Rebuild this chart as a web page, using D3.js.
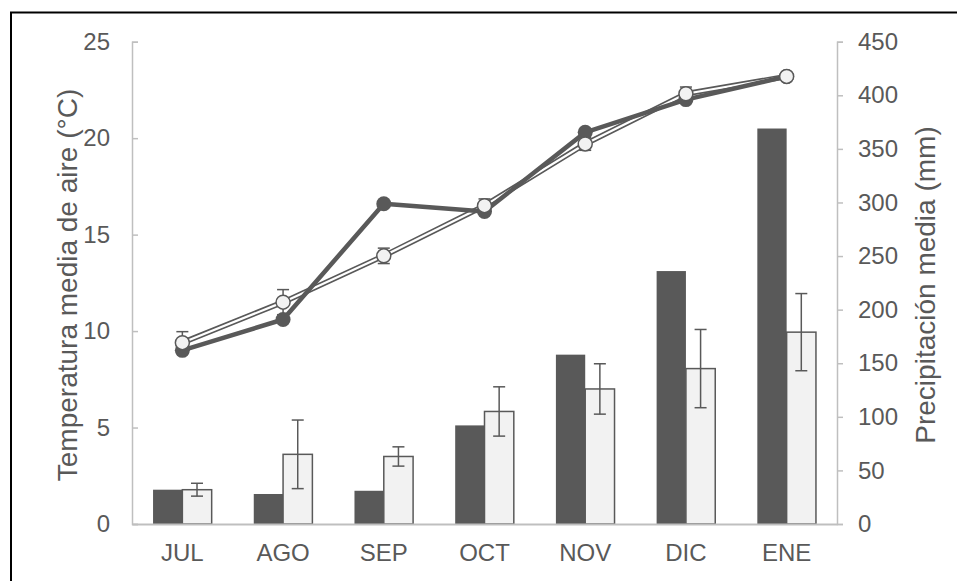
<!DOCTYPE html>
<html>
<head>
<meta charset="utf-8">
<script src="https://cdn.jsdelivr.net/npm/d3@7"></script>
<style>
  html, body { margin: 0; padding: 0; background: #fff; }
  svg { display: block; }
  text { font-family: "Liberation Sans", Arial, sans-serif; fill: #595959; }
</style>
</head>
<body>
<svg id="chart" width="957" height="581"></svg>
<script>
// Months (July to January)
const months = ["JUL", "AGO", "SEP", "OCT", "NOV", "DIC", "ENE"];

// Mean precipitation (mm), right axis
const precipA = [32, 28, 31, 92, 158, 236, 369];
const precipB = [32, 65, 63, 105, 126, 145, 179];
const precipBErr = [6, 32, 9, 23, 23.5, 36.5, 36];

// Mean air temperature (°C), left axis
const tempA = [9.0, 10.6, 16.6, 16.2, 20.3, 22.0, 23.2];
const tempB = [9.4, 11.5, 13.9, 16.5, 19.7, 22.3, 23.2];
const tempBErr = [0.57, 0.65, 0.4, 0.35, 0.33, 0.35, 0.15];

// Axis ticks
const tempTicks = [0, 5, 10, 15, 20, 25];
const precipTicks = [0, 50, 100, 150, 200, 250, 300, 350, 400, 450];

(function () {
  const svg = d3.select("#chart");
  const dark = "#595959";
  const light = "#f2f2f2";
  const axisGrey = "#bfbfbf";

  const plotL = 132, plotR = 837, plotT = 41.7, plotB = 524;

  const x = d3.scaleBand().domain(months).range([plotL, plotR]).padding(0);
  const xSub = d3.scaleBand().domain(["a", "b"]).range([0, x.bandwidth()])
    .paddingInner(0).paddingOuter(0.718);
  const yT = d3.scaleLinear().domain([0, 25]).range([plotB, plotT]);
  const yP = d3.scaleLinear().domain([0, 450]).range([plotB, plotT]);

  // Outer frame
  svg.append("rect")
    .attr("x", 11).attr("y", 12.5)
    .attr("width", 980).attr("height", 600)
    .attr("fill", "none").attr("stroke", "#000").attr("stroke-width", 2);

  // Left axis (temperature), ticks pointing inward
  const gL = svg.append("g").attr("transform", `translate(${plotL},0)`)
    .call(d3.axisLeft(yT).tickValues(tempTicks).tickSize(-6).tickPadding(28));
  // Right axis (precipitation), ticks pointing outward
  const gR = svg.append("g").attr("transform", `translate(${plotR},0)`)
    .call(d3.axisRight(yP).tickValues(precipTicks).tickSize(6).tickPadding(16));
  [gL, gR].forEach(g => {
    g.select(".domain").attr("stroke", axisGrey).attr("stroke-width", 1.5);
    g.selectAll(".tick line").attr("stroke", axisGrey).attr("stroke-width", 1.5);
    g.selectAll(".tick text").attr("font-size", 24).attr("fill", dark)
      .attr("font-family", "Liberation Sans, Arial, sans-serif");
  });
  gL.selectAll(".tick text").attr("text-anchor", "end").attr("x", -22);
  gR.selectAll(".tick text").attr("x", 21);

  // Bars
  const groups = svg.append("g").selectAll("g").data(months).join("g")
    .attr("transform", d => `translate(${x(d)},0)`);
  groups.append("rect")
    .attr("x", xSub("a")).attr("width", xSub.bandwidth())
    .attr("y", (d, i) => yP(precipA[i]))
    .attr("height", (d, i) => plotB - yP(precipA[i]))
    .attr("fill", dark);
  groups.append("rect")
    .attr("x", xSub("b")).attr("width", xSub.bandwidth())
    .attr("y", (d, i) => yP(precipB[i]))
    .attr("height", (d, i) => plotB - yP(precipB[i]))
    .attr("fill", light).attr("stroke", dark).attr("stroke-width", 1.5);

  // Error bars on precipitation
  const capW = 6;
  groups.each(function (d, i) {
    const g = d3.select(this);
    const cx = xSub("b") + xSub.bandwidth() / 2;
    const y1 = yP(precipB[i] + precipBErr[i]);
    const y2 = yP(precipB[i] - precipBErr[i]);
    const e = g.append("g").attr("stroke", dark).attr("stroke-width", 1.5);
    e.append("line").attr("x1", cx).attr("x2", cx).attr("y1", y1).attr("y2", y2);
    e.append("line").attr("x1", cx - capW).attr("x2", cx + capW).attr("y1", y1).attr("y2", y1);
    e.append("line").attr("x1", cx - capW).attr("x2", cx + capW).attr("y1", y2).attr("y2", y2);
  });

  // Bottom axis
  const gB = svg.append("g").attr("transform", `translate(0,${plotB})`)
    .call(d3.axisBottom(x).tickSize(0).tickPadding(20));
  gB.select(".domain").attr("stroke", axisGrey).attr("stroke-width", 2);
  gB.selectAll(".tick text").attr("font-size", 24).attr("fill", dark)
    .attr("font-family", "Liberation Sans, Arial, sans-serif");

  // Temperature lines
  const cxm = d => x(d) + x.bandwidth() / 2;
  const line = d3.line().x((d, i) => cxm(months[i])).y(d => yT(d));

  // Light series error bars
  const eb = svg.append("g").attr("stroke", dark).attr("stroke-width", 1.5);
  tempB.forEach((v, i) => {
    const cx = cxm(months[i]);
    const y1 = yT(v + tempBErr[i]), y2 = yT(v - tempBErr[i]);
    eb.append("line").attr("x1", cx).attr("x2", cx).attr("y1", y1).attr("y2", y2);
    eb.append("line").attr("x1", cx - 6).attr("x2", cx + 6).attr("y1", y1).attr("y2", y1);
    eb.append("line").attr("x1", cx - 6).attr("x2", cx + 6).attr("y1", y2).attr("y2", y2);
  });

  // Light series: double-stroke line
  svg.append("path").datum(tempB).attr("d", line)
    .attr("fill", "none").attr("stroke", dark).attr("stroke-width", 5.5)
    .attr("stroke-linejoin", "round");
  svg.append("path").datum(tempB).attr("d", line)
    .attr("fill", "none").attr("stroke", "#fff").attr("stroke-width", 2.2)
    .attr("stroke-linejoin", "round");

  // Dark series: thick line with filled markers
  svg.append("path").datum(tempA).attr("d", line)
    .attr("fill", "none").attr("stroke", dark).attr("stroke-width", 4.5)
    .attr("stroke-linejoin", "round");
  svg.append("g").selectAll("circle").data(tempA).join("circle")
    .attr("cx", (d, i) => cxm(months[i])).attr("cy", d => yT(d))
    .attr("r", 7.5).attr("fill", dark);

  // Light series markers
  svg.append("g").selectAll("circle").data(tempB).join("circle")
    .attr("cx", (d, i) => cxm(months[i])).attr("cy", d => yT(d))
    .attr("r", 7).attr("fill", light).attr("stroke", dark).attr("stroke-width", 1.5);

  // Axis titles
  svg.append("text")
    .attr("transform", "translate(77,285) rotate(-90)")
    .attr("text-anchor", "middle").attr("font-size", 28).attr("fill", dark)
    .text("Temperatura media de aire (°C)");
  svg.append("text")
    .attr("transform", "translate(935,285) rotate(-90)")
    .attr("text-anchor", "middle").attr("font-size", 28).attr("fill", dark)
    .text("Precipitación media (mm)");
})();
</script>
</body>
</html>
